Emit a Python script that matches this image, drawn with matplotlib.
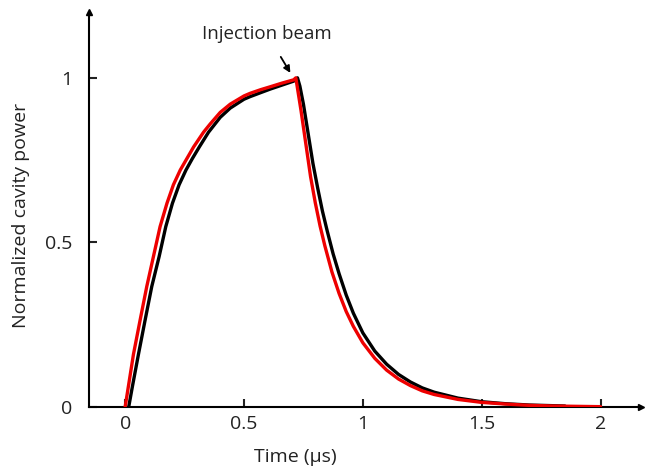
import matplotlib
matplotlib.use("Agg")
import matplotlib.pyplot as plt

# ---- data ----
red_t = [0.0, 0.035, 0.063, 0.091, 0.119, 0.147, 0.176, 0.203, 0.232, 0.26, 0.288, 0.33, 0.358, 0.40, 0.442,
         0.5, 0.526, 0.57, 0.611, 0.66, 0.709, 0.718,
         0.74, 0.76, 0.78, 0.80, 0.82, 0.84, 0.87, 0.9, 0.93, 0.96, 1.0, 1.05, 1.1, 1.15, 1.2, 1.25, 1.3,
         1.4, 1.5, 1.6, 1.7, 1.8, 1.9, 2.0]
red_y = [0.0, 0.16, 0.264, 0.366, 0.457, 0.548, 0.619, 0.675, 0.72, 0.755, 0.79, 0.835, 0.86, 0.895, 0.92,
         0.945, 0.953, 0.964, 0.973, 0.984, 0.994, 1.0,
         0.90, 0.80, 0.70, 0.62, 0.55, 0.49, 0.41, 0.345, 0.29, 0.245, 0.195, 0.148, 0.112, 0.085, 0.065,
         0.049, 0.038, 0.023, 0.014, 0.009, 0.005, 0.003, 0.002, 0.001]

black_t = [0.015, 0.03, 0.056, 0.084, 0.112, 0.143, 0.171, 0.199, 0.227, 0.256, 0.283, 0.312, 0.351, 0.4,
           0.442, 0.5, 0.526, 0.57, 0.611, 0.66, 0.709, 0.725,
           0.735, 0.75, 0.77, 0.79, 0.81, 0.83, 0.85, 0.875, 0.9, 0.93, 0.96, 1.0, 1.05, 1.1, 1.15, 1.2,
           1.25, 1.3, 1.4, 1.5, 1.6, 1.7, 1.85]
black_y = [0.0, 0.06, 0.16, 0.264, 0.366, 0.457, 0.548, 0.619, 0.675, 0.72, 0.755, 0.79, 0.835, 0.88,
           0.908, 0.935, 0.943, 0.955, 0.966, 0.978, 0.99, 1.0,
           0.975, 0.92, 0.83, 0.74, 0.665, 0.595, 0.535, 0.465, 0.405, 0.34, 0.285, 0.225, 0.17, 0.13,
           0.099, 0.076, 0.058, 0.045, 0.027, 0.016, 0.01, 0.006, 0.003]

x_ticks = [0, 0.5, 1, 1.5, 2]
x_tick_labels = ["0", "0.5", "1", "1.5", "2"]
y_ticks = [0, 0.5, 1]
y_tick_labels = ["0", "0.5", "1"]

plt.rcParams['font.family'] = ['Open Sans', 'DejaVu Sans']

fig = plt.figure(figsize=(6.45, 4.70), dpi=100)
W, H = 645, 470
left, right, bottom, top = 89, 641, 407, 12
ax = fig.add_axes([left / W, 1 - bottom / H, (right - left) / W, (bottom - top) / H])

ax.plot(black_t, black_y, color='black', lw=2.4, solid_joinstyle='round', solid_capstyle='round', zorder=3)
ax.plot(red_t, red_y, color='#ee0000', lw=2.4, solid_joinstyle='round', solid_capstyle='round', zorder=4)

ax.set_xlim(-0.152, 2.17)
ax.set_ylim(0, 1.20)

for s in ['top', 'right']:
    ax.spines[s].set_visible(False)
for s in ['left', 'bottom']:
    ax.spines[s].set_linewidth(1.5)

ax.plot(1, 0, '>k', ms=5, transform=ax.transAxes, clip_on=False)
ax.plot(0, 1, '^k', ms=5, transform=ax.transAxes, clip_on=False)

ax.set_xticks(x_ticks)
ax.set_xticklabels(x_tick_labels)
ax.set_yticks(y_ticks)
ax.set_yticklabels(y_tick_labels)
ax.tick_params(axis='both', direction='in', length=6, width=1.5, labelsize=14, colors='#222222')
ax.tick_params(axis='x', pad=6)
ax.tick_params(axis='y', pad=12)

ax.set_xlabel("Time (µs)", fontsize=14, color='#222222')
ax.xaxis.set_label_coords((295 - left) / (right - left), -(448 - bottom) / (bottom - top))
ax.set_ylabel("Normalized cavity power", fontsize=14, color='#222222')
ax.yaxis.set_label_coords((30 - left) / (right - left), (bottom - 215) / (bottom - top))

ax.annotate("Injection beam", xy=(0.695, 1.015), xytext=(0.598, 1.132),
            ha='center', va='center', fontsize=13.5, color='#222222',
            arrowprops=dict(arrowstyle='-|>', color='black', lw=1.3, mutation_scale=10,
                            shrinkA=9, shrinkB=0))

fig.savefig("out.png", dpi=100)
